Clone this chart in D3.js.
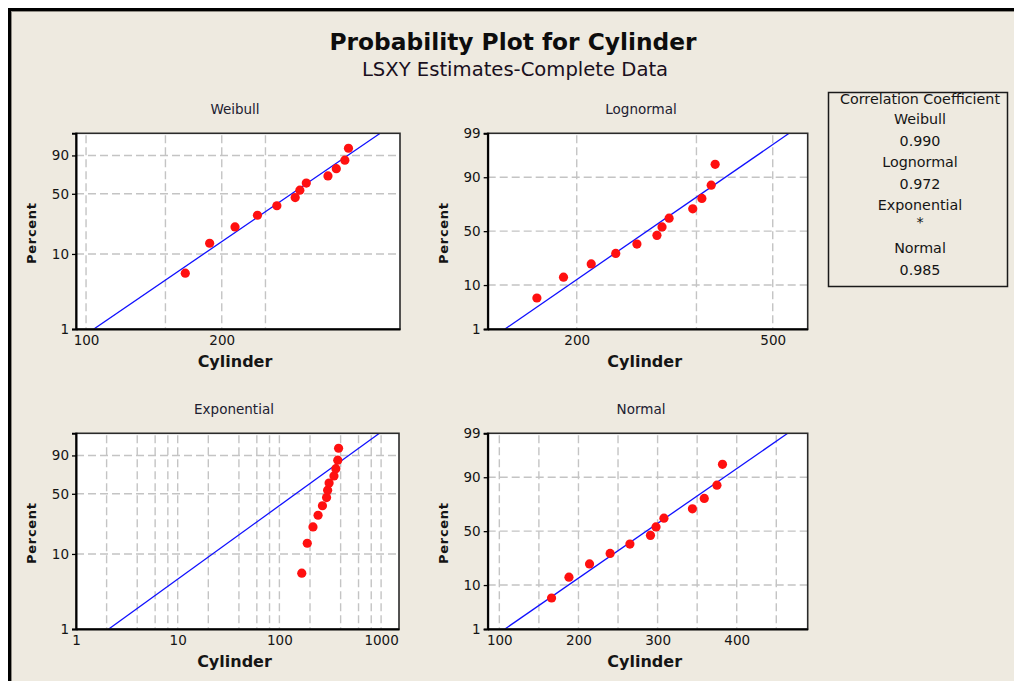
<!DOCTYPE html>
<html>
<head>
<meta charset="utf-8">
<script src="https://cdn.jsdelivr.net/npm/d3@7"></script>
<style>
  html, body { margin: 0; padding: 0; background: #ffffff; }
  svg { display: block; }
  text { font-family: "DejaVu Sans", Verdana, sans-serif; fill: #151515; }
</style>
</head>
<body>
<script>
// Cylinder measurements, sorted ascending
const cylinder = [166, 188, 214, 240, 265, 291, 298, 308, 344, 359, 375, 382];
// Median-rank plotting positions (percent) for the 12 ordered values
const percentRank = [5.6, 13.7, 21.8, 29.8, 37.9, 46.0, 54.0, 62.1, 70.2, 78.2, 86.3, 94.4];

// Least-squares (LSXY) fitted parameters for each distribution
const weibullShape = 4.19, weibullScale = 312;
const lognormalLoc = 5.627, lognormalScale = 0.2855;
const exponentialMean = 209;
const normalMean = 285.8, normalSd = 76.8;

// Correlation coefficients shown in the side table
const corrNames = ["Weibull", "Lognormal", "Exponential", "Normal"];
const corrValues = ["0.990", "0.972", "*", "0.985"];

// Axis tick labels
const pctTicksWeibull = [1, 10, 50, 90];
const pctTicksNormal = [1, 10, 50, 90, 99];
const xTicksWeibull = [100, 200];
const xGridWeibull = [100, 150, 200, 250];
const xTicksLognormal = [200, 500];
const xGridLognormal = [200, 350, 500];
const xTicksExponential = [1, 10, 100, 1000];
const xGridExponential = [2, 4, 6, 8, 10, 20, 40, 60, 80, 100, 200, 400, 600, 800, 1000];
const xTicksNormal = [100, 200, 300, 400];
const xGridNormal = [100, 150, 200, 250, 300, 350, 400, 450];

// Inverse standard normal CDF (Acklam's rational approximation)
function probit(p) {
  const a = [-3.969683028665376e+01, 2.209460984245205e+02, -2.759285104469687e+02, 1.383577518672690e+02, -3.066479806614716e+01, 2.506628277459239e+00];
  const b = [-5.447609879822406e+01, 1.615858368580409e+02, -1.556989798598866e+02, 6.680131188771972e+01, -1.328068155288572e+01];
  const c = [-7.784894002430293e-03, -3.223964580411365e-01, -2.400758277161838e+00, -2.549671681011369e+00, 4.374664141464968e+00, 2.938163982698783e+00];
  const d = [7.784695709041462e-03, 3.224671290700398e-01, 2.445134137142996e+00, 3.754408661907416e+00];
  const pl = 0.02425, ph = 1 - pl;
  let q, r;
  if (p < pl) {
    q = Math.sqrt(-2 * Math.log(p));
    return (((((c[0]*q+c[1])*q+c[2])*q+c[3])*q+c[4])*q+c[5]) / ((((d[0]*q+d[1])*q+d[2])*q+d[3])*q+1);
  } else if (p <= ph) {
    q = p - 0.5; r = q * q;
    return (((((a[0]*r+a[1])*r+a[2])*r+a[3])*r+a[4])*r+a[5])*q / (((((b[0]*r+b[1])*r+b[2])*r+b[3])*r+b[4])*r+1);
  } else {
    q = Math.sqrt(-2 * Math.log(1 - p));
    return -(((((c[0]*q+c[1])*q+c[2])*q+c[3])*q+c[4])*q+c[5]) / ((((d[0]*q+d[1])*q+d[2])*q+d[3])*q+1);
  }
}
// Probability-paper transforms (percent -> linearised value)
const smallestExtreme = pct => Math.log(-Math.log(1 - pct / 100));
const normalScore = pct => probit(pct / 100);

// Fitted quantile functions (percent -> cylinder)
const weibullQ = pct => weibullScale * Math.pow(-Math.log(1 - pct / 100), 1 / weibullShape);
const lognormalQ = pct => Math.exp(lognormalLoc + lognormalScale * probit(pct / 100));
const exponentialQ = pct => -exponentialMean * Math.log(1 - pct / 100);
const normalQ = pct => normalMean + normalSd * probit(pct / 100);

const W = 1014, H = 681;
const svg = d3.select("body").append("svg").attr("width", W).attr("height", H);

// Window frame
svg.append("rect").attr("x", 0).attr("y", 0).attr("width", W).attr("height", H).attr("fill", "#ffffff");
svg.append("rect").attr("x", 8).attr("y", 8).attr("width", W - 8).attr("height", H - 8).attr("fill", "#000000");
svg.append("rect").attr("x", 11).attr("y", 11).attr("width", W - 11).attr("height", H - 11).attr("fill", "#8e8b84");
svg.append("rect").attr("x", 12).attr("y", 12).attr("width", W - 12).attr("height", H - 12).attr("fill", "#eeeae0");

// Titles
svg.append("text").attr("x", 513).attr("y", 50).attr("text-anchor", "middle")
  .style("font-size", "23.3px").style("font-weight", "bold").style("fill", "#0d0d0d")
  .text("Probability Plot for Cylinder");
svg.append("text").attr("x", 515).attr("y", 76).attr("text-anchor", "middle")
  .style("font-size", "19.6px").style("fill", "#1a1020")
  .text("LSXY Estimates-Complete Data");

const panels = [
  { title: "Weibull", titleX: 235, left: 76, right: 400, top: 133.3, bottom: 329,
    x: d3.scaleLog().domain([95, 497]), t: smallestExtreme, q: weibullQ,
    pctTicks: pctTicksWeibull, xTicks: xTicksWeibull, xGrid: xGridWeibull },
  { title: "Lognormal", titleX: 641, left: 487.7, right: 807.7, top: 133.3, bottom: 329,
    x: d3.scaleLog().domain([131.9, 588.8]), t: normalScore, q: lognormalQ,
    pctTicks: pctTicksNormal, xTicks: xTicksLognormal, xGrid: xGridLognormal },
  { title: "Exponential", titleX: 234, left: 76, right: 399, top: 433.3, bottom: 629,
    x: d3.scaleLog().domain([1, 1500]), t: smallestExtreme, q: exponentialQ,
    pctTicks: pctTicksWeibull, xTicks: xTicksExponential, xGrid: xGridExponential },
  { title: "Normal", titleX: 641, left: 487.7, right: 807.7, top: 433.3, bottom: 629,
    x: d3.scaleLinear().domain([85.3, 489.7]), t: normalScore, q: normalQ,
    pctTicks: pctTicksNormal, xTicks: xTicksNormal, xGrid: xGridNormal }
];

panels.forEach((p, i) => {
  p.x.range([p.left, p.right]);
  const y = d3.scaleLinear().domain([p.t(1), p.t(99)]).range([p.bottom, p.top]);
  const g = svg.append("g");

  // Panel title
  g.append("text").attr("x", p.titleX).attr("y", p.top - 19.5).attr("text-anchor", "middle")
    .style("font-size", "13.5px").style("fill", "#202030").text(p.title);

  // Plot area
  g.append("rect").attr("x", p.left).attr("y", p.top)
    .attr("width", p.right - p.left).attr("height", p.bottom - p.top).attr("fill", "#ffffff");

  const clipId = "clip" + i;
  g.append("clipPath").attr("id", clipId).append("rect")
    .attr("x", p.left).attr("y", p.top).attr("width", p.right - p.left).attr("height", p.bottom - p.top);

  // Dashed reference grid
  const grid = g.append("g").attr("stroke", "#c4c4c4").attr("stroke-width", 1.4)
    .attr("stroke-dasharray", "8,4").attr("fill", "none");
  grid.selectAll("line.v").data(p.xGrid).join("line").attr("class", "v")
    .attr("x1", d => p.x(d)).attr("x2", d => p.x(d))
    .attr("y1", p.top + 2).attr("y2", p.bottom);
  grid.selectAll("line.h").data(p.pctTicks.filter(v => v > 1 && v < 99)).join("line").attr("class", "h")
    .attr("x1", p.left).attr("x2", p.right)
    .attr("y1", d => y(p.t(d))).attr("y2", d => y(p.t(d)));

  // Fitted line
  g.append("line").attr("clip-path", `url(#${clipId})`)
    .attr("x1", p.x(p.q(1))).attr("y1", y(p.t(1)))
    .attr("x2", p.x(p.q(99))).attr("y2", y(p.t(99)))
    .attr("stroke", "#1010ff").attr("stroke-width", 1.3);

  // Data points
  g.append("g").selectAll("circle").data(cylinder).join("circle")
    .attr("cx", d => p.x(d)).attr("cy", (d, k) => y(p.t(percentRank[k])))
    .attr("r", 4.6).attr("fill", "#ff1010");

  // Frame
  g.append("rect").attr("x", p.left).attr("y", p.top)
    .attr("width", p.right - p.left).attr("height", p.bottom - p.top)
    .attr("fill", "none").attr("stroke", "#2a2a2a").attr("stroke-width", 1.6);

  // Y axis (percent)
  const yAxis = d3.axisLeft(y)
    .tickValues(p.pctTicks.map(p.t))
    .tickFormat((v, k) => p.pctTicks[k])
    .tickSize(4).tickPadding(3);
  const ya = g.append("g").attr("transform", `translate(${p.left},0)`).call(yAxis);
  ya.select(".domain").attr("stroke", "#000").attr("stroke-width", 2);
  ya.selectAll(".tick line").attr("stroke", "#000").attr("stroke-width", 1.3);
  ya.selectAll(".tick text").style("font-size", "13.5px").style("font-family", "DejaVu Sans").attr("fill", "#141414");

  // X axis (cylinder)
  const xAxis = d3.axisBottom(p.x).tickValues(p.xTicks).tickFormat(d3.format("d"))
    .tickSize(0).tickPadding(6);
  const xa = g.append("g").attr("transform", `translate(0,${p.bottom})`).call(xAxis);
  xa.select(".domain").attr("stroke", "#000").attr("stroke-width", 2);
  xa.selectAll(".tick text").style("font-size", "13.5px").style("font-family", "DejaVu Sans").attr("fill", "#141414");

  // Axis titles
  g.append("text").attr("x", (p.left + p.right) / 2 - 3).attr("y", p.bottom + 38)
    .attr("text-anchor", "middle").style("font-size", "16px").style("font-weight", "bold")
    .text("Cylinder");
  g.append("text")
    .attr("transform", `translate(${p.left - 40},${(p.top + p.bottom) / 2 + 2}) rotate(-90)`)
    .attr("text-anchor", "middle").style("font-size", "13px").style("font-weight", "bold")
    .style("letter-spacing", "0.7px").text("Percent");
});

// Correlation coefficient table
const lg = svg.append("g");
lg.append("rect").attr("x", 828.5).attr("y", 92.5).attr("width", 179).attr("height", 194)
  .attr("fill", "#eeeae0").attr("stroke", "#1a1a1a").attr("stroke-width", 1.5);
const legendCx = 920;
lg.append("text").attr("x", legendCx).attr("y", 104).attr("text-anchor", "middle")
  .style("font-size", "14.3px").text("Correlation Coefficient");
const nameY = [124, 167, 210, 253];
const valueY = [146, 189, 227, 275];
lg.selectAll("text.name").data(corrNames).join("text").attr("class", "name")
  .attr("x", legendCx).attr("y", (d, i) => nameY[i]).attr("text-anchor", "middle")
  .style("font-size", "14.3px").text(d => d);
lg.selectAll("text.val").data(corrValues).join("text").attr("class", "val")
  .attr("x", legendCx).attr("y", (d, i) => valueY[i]).attr("text-anchor", "middle")
  .style("font-size", "14.3px").text(d => d);
</script>
</body>
</html>
